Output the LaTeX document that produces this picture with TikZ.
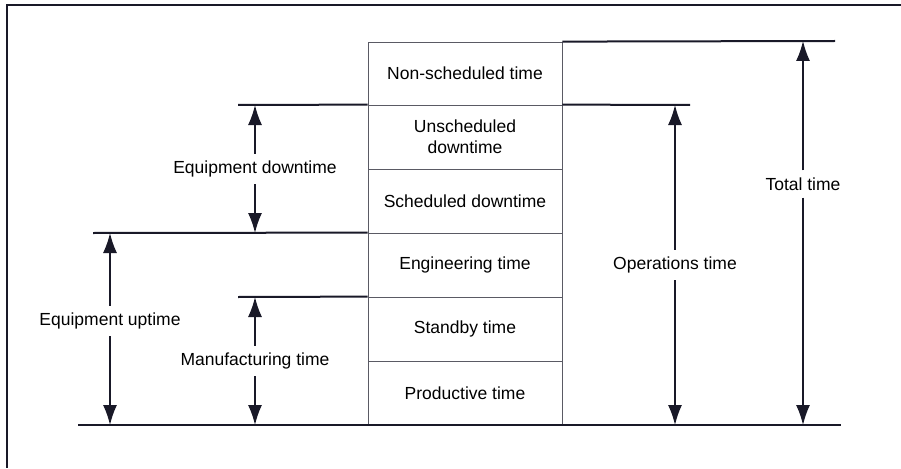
\documentclass[tikz,border=0pt]{standalone}
\usepackage{fontspec}
\setmainfont{Liberation Sans}
\usetikzlibrary{arrows.meta}
\definecolor{ink}{RGB}{25,25,40}
\definecolor{thin}{RGB}{90,90,100}
\begin{document}
\begin{tikzpicture}[x=1pt,y=-1pt,
  cell/.style={draw=thin, line width=0.8pt, minimum width=194pt, minimum height=64pt, inner sep=0pt, align=center, text=black},
  lab/.style={inner xsep=2pt, inner ysep=7pt, text=black},
  rule/.style={draw=ink, line width=2pt},
  dimarrow/.style={draw=ink, line width=1.5pt, -{Latex[length=20pt,width=14pt]}},
  font=\fontsize{17.5}{21}\selectfont]
\useasboundingbox (0,0) rectangle (901,468);
% frame
\coordinate (fTL) at (7,5);
\coordinate (fTR) at (901,5);
\coordinate (fBL) at (7,468);
\draw[rule] (fTR) -- (fTL) -- (fBL);
% column cells
\node[cell, minimum height=63pt] (r1) at (465,73.5) {Non-scheduled time};
\node[cell] (r2) at (465,137) {Unscheduled\\downtime};
\node[cell] (r3) at (465,201) {Scheduled downtime};
\node[cell] (r4) at (465,265) {Engineering time};
\node[cell] (r5) at (465,329) {Standby time};
\node[cell] (r6) at (465,393) {Productive time};
% reference lines
\coordinate (t41R) at (835,41);
\coordinate (t105L) at (238,105);
\coordinate (t105R) at (690,105);
\coordinate (t233L) at (93,233);
\coordinate (t297L) at (238,297);
\coordinate (t425L) at (78,425);
\coordinate (t425R) at (841,425);
\draw[rule] (r1.north east) -- (t41R);
\draw[rule] (t105L) -- (r2.north west);
\draw[rule] (r2.north east) -- (t105R);
\draw[rule] (t233L) -- (r4.north west);
\draw[rule] (t297L) -- (r5.north west);
\draw[rule] (t425L) -- (t425R);
% arrow end points
\coordinate (edT) at (255,105);
\coordinate (edB) at (255,233);
\coordinate (euT) at (110,233);
\coordinate (euB) at (110,425);
\coordinate (mtT) at (255,297);
\coordinate (mtB) at (255,425);
\coordinate (otT) at (675,105);
\coordinate (otB) at (675,425);
\coordinate (ttT) at (803,41);
\coordinate (ttB) at (803,425);
% labels
\node[lab] (ed) at (255,169) {Equipment downtime};
\node[lab] (eu) at (110,321) {Equipment uptime};
\node[lab] (mt) at (255,361) {Manufacturing time};
\node[lab] (ot) at (675,265) {Operations time};
\node[lab] (tt) at (803,184) {Total time};
% arrows
\draw[dimarrow] (ed) -- (edT);
\draw[dimarrow] (ed) -- (edB);
\draw[dimarrow] (eu) -- (euT);
\draw[dimarrow] (eu) -- (euB);
\draw[dimarrow] (mt) -- (mtT);
\draw[dimarrow] (mt) -- (mtB);
\draw[dimarrow] (ot) -- (otT);
\draw[dimarrow] (ot) -- (otB);
\draw[dimarrow] (tt) -- (ttT);
\draw[dimarrow] (tt) -- (ttB);
\end{tikzpicture}
\end{document}
